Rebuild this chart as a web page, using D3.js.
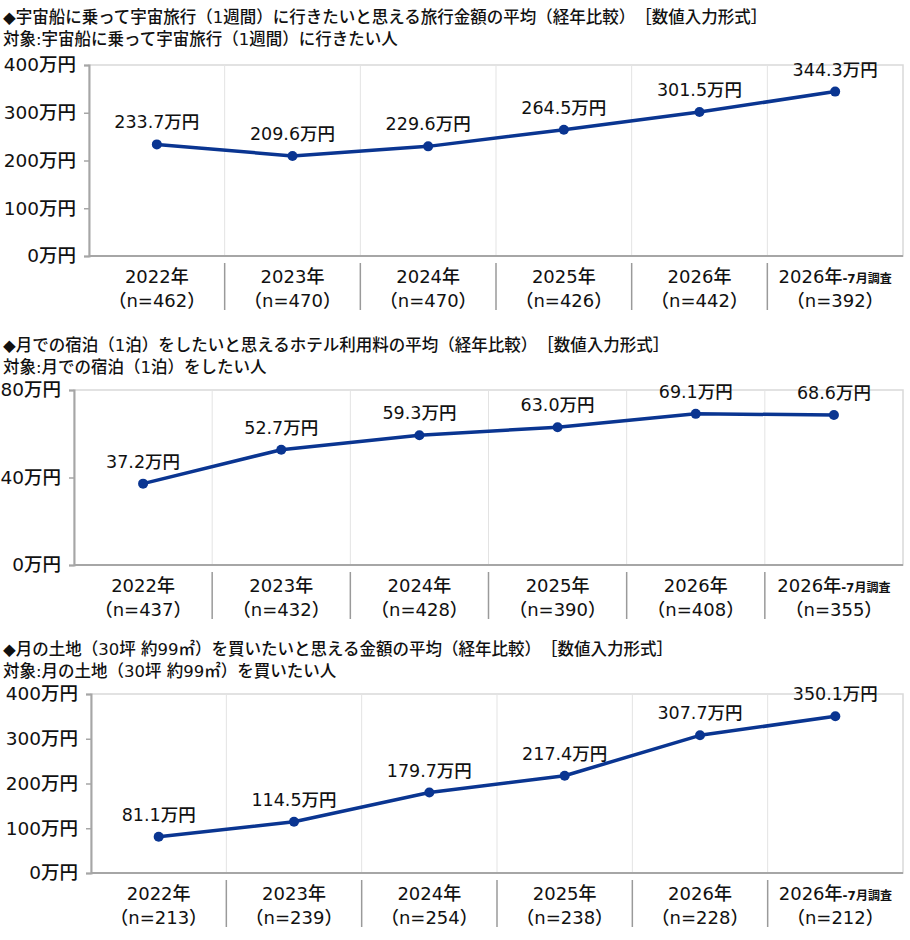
<!doctype HTML>
<html lang="ja">
<head>
<meta charset="utf-8">
<title>宇宙旅行・月の宿泊・月の土地 金額の平均（経年比較）</title>
<script src="https://d3js.org/d3.v7.min.js"></script>
<style type="text/css">
  body { margin: 0; background: #fff; }
  svg text {
	font-family: "DejaVu Sans", "Noto Sans CJK JP", sans-serif;
	fill: #111;
  }
</style>
</head>
<body>
<script type="text/javascript">

// category labels (the last survey has a small note after the year)
var years = ["2022年", "2023年", "2024年", "2025年", "2026年", "2026年"];
var lastNote = "-7月調査";
var unit = "万円";

// chart 1: space trip
var spaceTitle = "◆宇宙船に乗って宇宙旅行（1週間）に行きたいと思える旅行金額の平均（経年比較）　［数値入力形式］";
var spaceSub = "対象:宇宙船に乗って宇宙旅行（1週間）に行きたい人";
var spaceN = [462, 470, 470, 426, 442, 392];
var spaceValues = [233.7, 209.6, 229.6, 264.5, 301.5, 344.3];
var spaceTicks = [0, 100, 200, 300, 400];

// chart 2: hotel on the moon
var hotelTitle = "◆月での宿泊（1泊）をしたいと思えるホテル利用料の平均（経年比較）　［数値入力形式］";
var hotelSub = "対象:月での宿泊（1泊）をしたい人";
var hotelN = [437, 432, 428, 390, 408, 355];
var hotelValues = [37.2, 52.7, 59.3, 63.0, 69.1, 68.6];
var hotelTicks = [0, 40, 80];

// chart 3: land on the moon
var landTitle = "◆月の土地（30坪 約99㎡）を買いたいと思える金額の平均（経年比較）　［数値入力形式］";
var landSub = "対象:月の土地（30坪 約99㎡）を買いたい人";
var landN = [213, 239, 254, 238, 228, 212];
var landValues = [81.1, 114.5, 179.7, 217.4, 307.7, 350.1];
var landTicks = [0, 100, 200, 300, 400];

var lineColour = "#0a3591";

var svg = d3.select("body").append("svg")
	.attr("width", 910)
	.attr("height", 940);

function drawPanel(box, title, sub, values, nList, ticks) {
	var g = svg.append("g");

	g.append("text")
		.attr("x", 3).attr("y", box.titleY)
		.style("font-size", "16.5px").style("font-weight", 500)
		.text(title);
	g.append("text")
		.attr("x", 3).attr("y", box.titleY + 22)
		.style("font-size", "16.5px").style("font-weight", 500)
		.text(sub);

	var x = d3.scaleBand()
		.domain(d3.range(years.length))
		.range([box.left, box.right]);
	var y = d3.scaleLinear()
		.domain([0, d3.max(ticks)])
		.range([box.bottom, box.top]);
	var cx = function(i) { return x(i) + x.bandwidth() / 2; };

	// plot frame: light top/right, vertical gridlines
	g.append("rect")
		.attr("x", box.left).attr("y", box.top)
		.attr("width", box.right - box.left).attr("height", box.bottom - box.top)
		.attr("fill", "none").attr("stroke", "#d9d9d9").attr("stroke-width", 1.5);
	g.selectAll("line.grid")
		.data(d3.range(1, years.length))
		.enter().append("line")
		.attr("x1", function(i) { return x(i); })
		.attr("x2", function(i) { return x(i); })
		.attr("y1", box.top).attr("y2", box.bottom)
		.attr("stroke", "#e3e3e3").attr("stroke-width", 1);

	// y axis
	var yAxis = g.append("g")
		.attr("transform", "translate(" + box.left + ",0)")
		.call(d3.axisLeft(y).tickValues(ticks).tickSize(5).tickPadding(8)
			.tickFormat(function(d) { return d + unit; }));
	yAxis.select(".domain").attr("stroke", "#a6a6a6").attr("stroke-width", 2);
	yAxis.selectAll(".tick line").attr("stroke", "#a6a6a6").attr("stroke-width", 1.5);
	yAxis.selectAll(".tick text")
		.style("font-family", "'DejaVu Sans', 'Noto Sans CJK JP', sans-serif")
		.style("font-size", "18.5px").style("font-weight", 500)
		.attr("fill", "#111");

	// x axis base line
	g.append("line")
		.attr("x1", box.left).attr("x2", box.right)
		.attr("y1", box.bottom).attr("y2", box.bottom)
		.attr("stroke", "#a6a6a6").attr("stroke-width", 2);

	// category separators below the plot
	g.selectAll("line.sep")
		.data(d3.range(1, years.length))
		.enter().append("line")
		.attr("x1", function(i) { return x(i); })
		.attr("x2", function(i) { return x(i); })
		.attr("y1", box.bottom + 7).attr("y2", box.bottom + 54)
		.attr("stroke", "#9a9a9a").attr("stroke-width", 1.5);

	// category labels
	var cat = g.selectAll("g.cat")
		.data(d3.range(years.length))
		.enter().append("g");
	var yearText = cat.append("text")
		.attr("x", cx)
		.attr("y", box.bottom + 27)
		.attr("text-anchor", "middle")
		.style("font-size", "18px").style("font-weight", 500);
	yearText.append("tspan").text(function(i) { return years[i]; });
	yearText.filter(function(i) { return i == years.length - 1; })
		.append("tspan")
		.style("font-size", "12px").style("font-weight", 700)
		.text(lastNote);
	cat.append("text")
		.attr("x", cx)
		.attr("y", box.bottom + 51)
		.attr("text-anchor", "middle")
		.style("font-size", "18px").style("font-weight", 500)
		.text(function(i) { return "（n=" + nList[i] + "）"; });

	// the line
	g.append("path")
		.datum(values)
		.attr("fill", "none")
		.attr("stroke", lineColour)
		.attr("stroke-width", 3.5)
		.attr("stroke-linejoin", "round")
		.attr("d", d3.line()
			.x(function(d, i) { return cx(i); })
			.y(function(d) { return y(d); }));

	g.selectAll("circle.pt")
		.data(values)
		.enter().append("circle")
		.attr("cx", function(d, i) { return cx(i); })
		.attr("cy", function(d) { return y(d); })
		.attr("r", 5)
		.attr("fill", lineColour);

	g.selectAll("text.val")
		.data(values)
		.enter().append("text")
		.attr("x", function(d, i) { return cx(i); })
		.attr("y", function(d) { return y(d) - 16; })
		.attr("text-anchor", "middle")
		.style("font-size", "17.5px").style("font-weight", 500)
		.text(function(d) { return d.toFixed(1) + unit; });
}

drawPanel({titleY: 23, left: 89, right: 903, top: 65, bottom: 256},
	spaceTitle, spaceSub, spaceValues, spaceN, spaceTicks);

drawPanel({titleY: 351, left: 74, right: 903, top: 390, bottom: 565},
	hotelTitle, hotelSub, hotelValues, hotelN, hotelTicks);

drawPanel({titleY: 655, left: 91, right: 903, top: 694, bottom: 873},
	landTitle, landSub, landValues, landN, landTicks);

</script>
</body>
</html>
